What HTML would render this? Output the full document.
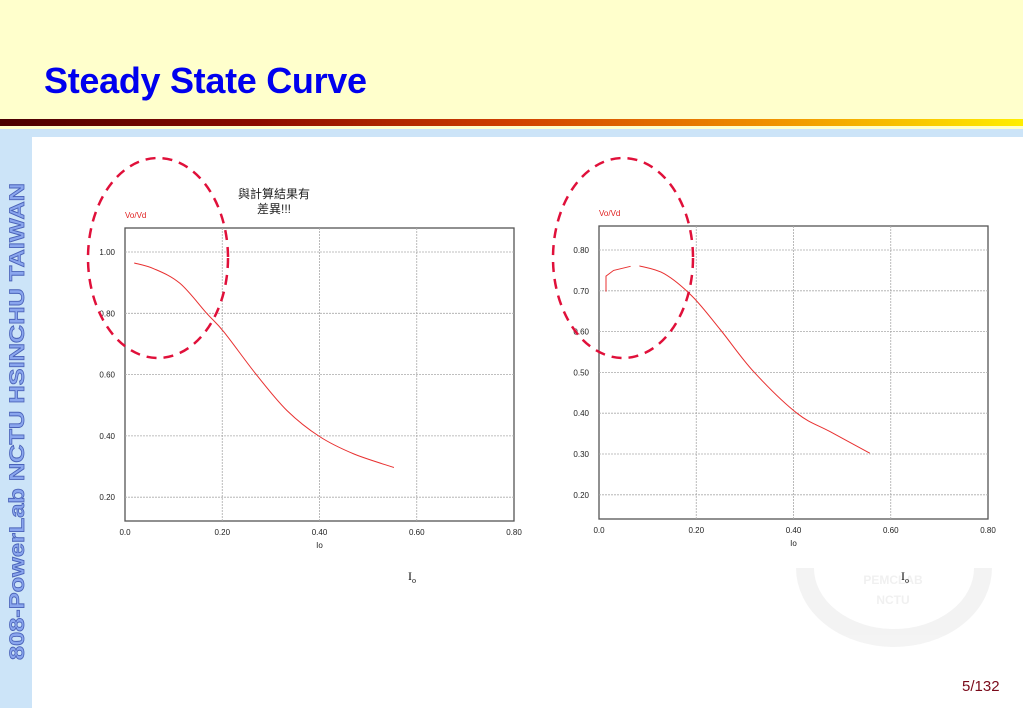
<!DOCTYPE html>
<html><head><meta charset="utf-8">
<style>
body{margin:0;width:1023px;height:708px;overflow:hidden;background:#fff;font-family:"Liberation Sans",sans-serif;position:relative}
#hdr{position:absolute;left:0;top:0;width:1023px;height:119px;background:#FFFFCC}
#title{position:absolute;left:44px;top:60px;font-size:36px;font-weight:bold;color:#0000EE;font-family:"Liberation Sans",sans-serif;letter-spacing:-0.3px}
#stripe{position:absolute;left:0;top:119px;width:1023px;height:7px;background:linear-gradient(90deg,#4a0000 0%,#8a0a00 25%,#d04000 50%,#f09000 75%,#ffee00 100%)}
#stripe2{position:absolute;left:0;top:126px;width:1023px;height:3px;background:#FFFFCC}
#side{position:absolute;left:0;top:129px;width:32px;height:579px;background:#CCE4F8}
#topband{position:absolute;left:0;top:129px;width:1023px;height:8px;background:#CCE4F8}
#page{position:absolute;left:962px;top:678px;font-size:15px;color:#7a0a1a}
svg{position:absolute;left:0;top:0}
</style></head><body>
<div id="hdr"></div>
<div id="title">Steady State Curve</div>
<div id="stripe"></div>
<div id="stripe2"></div>
<div id="topband"></div>
<div id="side"></div>
<div id="page">5/132</div>
<svg id="s" width="1023" height="708">
<text x="0" y="0" transform="translate(24,660) rotate(-90)" font-size="21" font-weight="bold" fill="#8aa6ee" stroke="#4a62b8" stroke-width="0.8" textLength="477" lengthAdjust="spacingAndGlyphs">808-PowerLab NCTU HSINCHU TAIWAN</text>
<g opacity="0.45">
<path d="M805,568 A89,70 0 0 0 983,568" fill="none" stroke="#e6e6e6" stroke-width="18"/>
<text x="893" y="584" font-size="12" font-weight="bold" fill="#e0e0e0" text-anchor="middle">PEMCLAB</text>
<text x="893" y="604" font-size="12" font-weight="bold" fill="#e0e0e0" text-anchor="middle">NCTU</text>
</g>
</svg>
<script>
const xTicks=[0,0.2,0.4,0.6,0.8];
const xTickLabels=["0.0","0.20","0.40","0.60","0.80"];
const leftYTicks=[1.0,0.8,0.6,0.4,0.2];
const leftYLabels=["1.00","0.80","0.60","0.40","0.20"];
const leftX=[0.019,0.06,0.113,0.168,0.203,0.271,0.333,0.40,0.471,0.553];
const leftY=[0.964,0.945,0.898,0.80,0.74,0.598,0.483,0.398,0.341,0.297];
const rightYTicks=[0.8,0.7,0.6,0.5,0.4,0.3,0.2];
const rightYLabels=["0.80","0.70","0.60","0.50","0.40","0.30","0.20"];
const rightStubX=[0.0144,0.0144,0.03,0.065];
const rightStubY=[0.698,0.736,0.750,0.760];
const rightX=[0.083,0.134,0.192,0.25,0.318,0.407,0.475,0.557];
const rightY=[0.761,0.742,0.686,0.604,0.502,0.40,0.355,0.302];
const NS="http://www.w3.org/2000/svg";
const svg=document.getElementById('s');
function mk(t,a,p){const e=document.createElementNS(NS,t);for(const k in a)e.setAttribute(k,a[k]);(p||svg).appendChild(e);return e;}
function smooth(pts){
 let d='M'+pts[0][0].toFixed(1)+','+pts[0][1].toFixed(1);
 for(let i=0;i<pts.length-1;i++){
  const p0=pts[Math.max(0,i-1)],p1=pts[i],p2=pts[i+1],p3=pts[Math.min(pts.length-1,i+2)];
  const c1=[p1[0]+(p2[0]-p0[0])/6,p1[1]+(p2[1]-p0[1])/6];
  const c2=[p2[0]-(p3[0]-p1[0])/6,p2[1]-(p3[1]-p1[1])/6];
  d+=' C'+c1.map(v=>v.toFixed(1)).join(',')+' '+c2.map(v=>v.toFixed(1)).join(',')+' '+p2[0].toFixed(1)+','+p2[1].toFixed(1);
 }
 return d;
}
function chart(cfg){
 const g=mk('g',{});
 
 
 const sx=v=>cfg.x0+v/0.8*(cfg.x1-cfg.x0);
 const sy=v=>cfg.yRef+(cfg.vRef-v)*cfg.ppu;
 mk('rect',{x:cfg.x0,y:cfg.y0,width:cfg.x1-cfg.x0,height:cfg.y1-cfg.y0,fill:'#fff',stroke:'#555','stroke-width':1.3},g);
 xTicks.forEach((v,i)=>{
  if(i>0&&i<xTicks.length-1){const l=mk('line',{x1:sx(v),x2:sx(v),y1:cfg.y0,y2:cfg.y1,stroke:'#aaa','stroke-dasharray':'2,1','stroke-width':0.8},g);
  }
  const t=mk('text',{x:sx(v),y:cfg.y1+14,'font-size':8,'text-anchor':'middle',fill:'#222'},g);t.textContent=xTickLabels[i];
  
 });
 cfg.yt.forEach((v,i)=>{
  const l=mk('line',{x1:cfg.x0,x2:cfg.x1,y1:sy(v),y2:sy(v),stroke:'#aaa','stroke-dasharray':'2,1','stroke-width':0.8},g);
  
  const t=mk('text',{x:cfg.x0-10,y:sy(v)+3,'font-size':8,'text-anchor':'end',fill:'#222'},g);t.textContent=cfg.yl[i];
  
 });
 const yt=mk('text',{x:cfg.x0,y:cfg.y0-10,'font-size':8,fill:'#e02020'},g);yt.textContent='Vo/Vd';
 
 const xt=mk('text',{x:sx(0.4),y:cfg.y1+27,'font-size':8,'text-anchor':'middle',fill:'#222'},g);xt.textContent='Io';
 
 cfg.series.forEach(s=>{
  const pts=s.x.map((v,i)=>[sx(v),sy(s.y[i])]);
  const d=s.straight?pts.map((p,i)=>(i?'L':'M')+p[0].toFixed(1)+','+p[1].toFixed(1)).join(' '):smooth(pts);
  const p=mk('path',{d:d,fill:'none',stroke:'#e83030','stroke-width':1},g);
  
 });
 const el=mk('ellipse',{cx:cfg.ecx,cy:258,rx:70,ry:100,fill:'none',stroke:'#e0103a','stroke-width':2.5,'stroke-dasharray':'10,7'},g);
 
 const io=mk('text',{x:cfg.iox,y:580,'font-size':12,'font-family':'Liberation Serif, serif',fill:'#111'},g);
 io.innerHTML='I<tspan font-size="8" dy="3">o</tspan>';
 
}
chart({name:'left-chart',x0:125,x1:514,y0:228,y1:521,yRef:252,vRef:1.0,ppu:306.5,yt:leftYTicks,yl:leftYLabels,series:[{x:leftX,y:leftY}],ecx:158,iox:408});
chart({name:'right-chart',x0:599,x1:988,y0:226,y1:519,yRef:250,vRef:0.8,ppu:408,yt:rightYTicks,yl:rightYLabels,series:[{x:rightStubX,y:rightStubY,straight:true},{x:rightX,y:rightY}],ecx:623,iox:901});
const n1=mk('text',{x:274,y:198,'font-size':12,'text-anchor':'middle',fill:'#222','font-family':'Liberation Sans, Noto Sans CJK TC, sans-serif'});
n1.textContent='與計算結果有';


const n2=mk('text',{x:274,y:213,'font-size':12,'text-anchor':'middle',fill:'#222','font-family':'Liberation Sans, Noto Sans CJK TC, sans-serif'});
n2.textContent='差異!!!';


</script>
</body></html>
